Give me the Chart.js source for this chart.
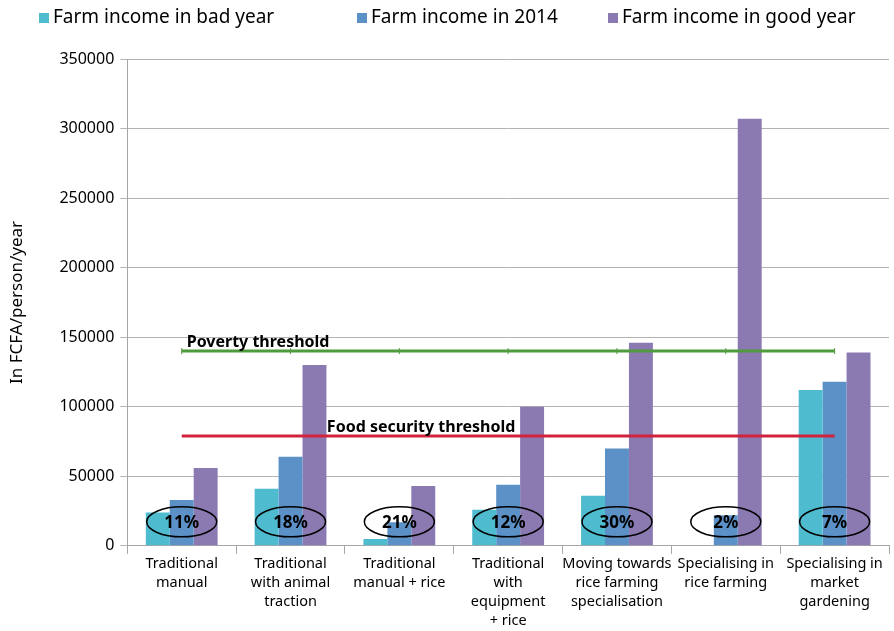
<!DOCTYPE html>
<html>
<head>
<meta charset="utf-8">
<script src="https://cdn.jsdelivr.net/npm/chart.js"></script>
<style>
  html, body { margin: 0; padding: 0; background: #fff; }
  #wrap { width: 894px; height: 631px; position: relative; }
</style>
</head>
<body>
<div id="wrap"><canvas id="incomeChart"></canvas></div>
<script>
// farm types
const categories = [
    ['Traditional', 'manual'],
    ['Traditional', 'with animal', 'traction'],
    ['Traditional', 'manual + rice'],
    ['Traditional', 'with', 'equipment', '+ rice'],
    ['Moving towards', 'rice farming', 'specialisation'],
    ['Specialising in', 'rice farming'],
    ['Specialising in', 'market', 'gardening']
];
const badYear = [24000, 41000, 5000, 26000, 36000, 0, 112000];
const year2014 = [33000, 64000, 17000, 44000, 70000, 22000, 118000];
const goodYear = [56000, 130000, 43000, 100000, 146000, 307000, 139000];
const shares = ['11%', '18%', '21%', '12%', '30%', '2%', '7%'];
const povertyThreshold = 140000;
const foodThreshold = 79000;
const yTicks = [0, 50000, 100000, 150000, 200000, 250000, 300000, 350000];

const FONT = "'Noto Sans', sans-serif";
const legendX = [39, 357, 608]; // box left edges, Excel-style uneven spacing

// legend, ellipses with share of farms, threshold captions
const annotations = {
    id: 'annotations',
    afterDatasetsDraw(chart) {
        const ctx = chart.ctx;
        const x = chart.scales.x;
        const y = chart.scales.y;
        ctx.save();

        // legend (bar datasets only)
        const bars = chart.data.datasets.filter(d => d.type !== 'line');
        ctx.font = '19px ' + FONT;
        ctx.textBaseline = 'middle';
        ctx.textAlign = 'left';
        bars.forEach((d, i) => {
            ctx.fillStyle = d.backgroundColor;
            ctx.fillRect(legendX[i], 13, 10, 10);
            ctx.fillStyle = '#000';
            ctx.fillText(d.label, legendX[i] + 14, 18);
        });

        ctx.fillStyle = '#000';
        ctx.font = 'bold 16px ' + FONT;
        ctx.textBaseline = 'bottom';
        ctx.textAlign = 'left';
        ctx.fillText('Poverty threshold', x.getPixelForValue(0) + 5, y.getPixelForValue(povertyThreshold) - 1);
        ctx.textAlign = 'center';
        ctx.fillText('Food security threshold', x.getPixelForValue(2.2), y.getPixelForValue(foodThreshold) - 1);

        const cy = y.getPixelForValue(0) - 24;
        ctx.font = 'bold 17px ' + FONT;
        shares.forEach((s, i) => {
            const cx = x.getPixelForValue(i);
            ctx.beginPath();
            ctx.ellipse(cx, cy, 35, 15, 0, 0, Math.PI * 2);
            ctx.lineWidth = 1.5;
            ctx.strokeStyle = '#000';
            ctx.stroke();
            ctx.textBaseline = 'middle';
            ctx.fillText(s, cx, cy + 1);
        });
        ctx.restore();
    }
};

new Chart(document.getElementById('incomeChart'), {
    type: 'bar',
    data: {
        labels: categories,
        datasets: [
            {
                type: 'line',
                label: 'Poverty threshold',
                data: categories.map(() => povertyThreshold),
                borderColor: '#4f9a3c',
                borderWidth: 3,
                pointStyle: 'line',
                pointRotation: 90,
                pointRadius: 3,
                pointBorderWidth: 1,
                pointBorderColor: '#4f9a3c',
                order: 0
            },
            {
                type: 'line',
                label: 'Food security threshold',
                data: categories.map(() => foodThreshold),
                borderColor: '#d2233c',
                borderWidth: 3,
                pointRadius: 0,
                order: 0
            },
            {
                label: 'Farm income in bad year',
                data: badYear,
                backgroundColor: '#4fbbcf',
                order: 1
            },
            {
                label: 'Farm income in 2014',
                data: year2014,
                backgroundColor: '#5b91c6',
                order: 1
            },
            {
                label: 'Farm income in good year',
                data: goodYear,
                backgroundColor: '#8b7ab2',
                order: 1
            }
        ]
    },
    options: {
        responsive: true,
        maintainAspectRatio: false,
        animation: false,
        layout: { padding: { left: 4, right: 2, top: 59, bottom: 0 } },
        datasets: {
            bar: { categoryPercentage: 0.66, barPercentage: 1.0 }
        },
        scales: {
            x: {
                grid: {
                    offset: true,
                    drawOnChartArea: false,
                    tickLength: 8,
                    color: '#a6a6a6'
                },
                border: { color: '#a6a6a6' },
                ticks: {
                    autoSkip: false,
                    maxRotation: 0,
                    minRotation: 0,
                    color: '#000',
                    font: { family: FONT, size: 14.5, lineHeight: 1.33 },
                    padding: 0
                }
            },
            y: {
                min: 0,
                max: 350000,
                afterBuildTicks(axis) {
                    axis.ticks = yTicks.map(v => ({ value: v }));
                },
                grid: {
                    color: '#b3b3b3',
                    tickLength: 7
                },
                border: { color: '#a6a6a6' },
                ticks: {
                    color: '#000',
                    font: { family: FONT, size: 16 },
                    padding: 6,
                    callback: v => String(v)
                },
                title: {
                    display: true,
                    text: 'In FCFA/person/year',
                    color: '#000',
                    font: { family: FONT, size: 17 },
                    padding: { top: 3, bottom: 26 }
                }
            }
        },
        plugins: {
            legend: { display: false },
            tooltip: { enabled: false }
        }
    },
    plugins: [annotations]
});
</script>
</body>
</html>
